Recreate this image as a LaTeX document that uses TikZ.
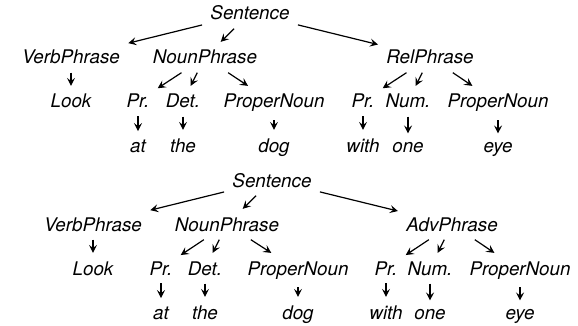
\documentclass[tikz,border=0pt]{standalone}
\usepackage{fontspec}
\setmainfont{TeX Gyre Heros}
\usetikzlibrary{arrows.meta}

\tikzset{
  word/.style={font=\fontsize{9.4}{11}\selectfont\itshape, inner sep=4pt, anchor=base},
  branch/.style={-{Stealth[length=4pt, width=4pt, inset=1.6pt]}, line width=0.6pt}
}

\begin{document}
\begin{tikzpicture}[x=0.5pt, y=-0.5pt, every node/.style={word}]
  \useasboundingbox (0,0) rectangle (578,326);

  % Upper tree
  \node (s1) at (250,20) {Sentence};
  \node (vp1) at (71,64) {VerbPhrase};
  \node (np1) at (205,64) {NounPhrase};
  \node (rp1) at (430,64) {RelPhrase};
  \node (look1) at (71,108) {Look};
  \node (pr1) at (138,108) {Pr.};
  \node (det1) at (183,108) {Det.};
  \node (pn1) at (274,108) {ProperNoun};
  \node (pr2) at (363,108) {Pr.};
  \node (num1) at (408,108) {Num.};
  \node (pn2) at (498,108) {ProperNoun};
  \node (at1) at (138,152) {at};
  \node (the1) at (183,152) {the};
  \node (dog1) at (274,152) {dog};
  \node (with1) at (363,152) {with};
  \node (one1) at (408,152) {one};
  \node (eye1) at (498,152) {eye};
  \draw[branch] (s1) -- (vp1);
  \draw[branch] (s1) -- (np1);
  \draw[branch] (s1) -- (rp1);
  \draw[branch] (vp1) -- (look1);
  \draw[branch] (np1) -- (pr1);
  \draw[branch] (np1) -- (det1);
  \draw[branch] (np1) -- (pn1);
  \draw[branch] (rp1) -- (pr2);
  \draw[branch] (rp1) -- (num1);
  \draw[branch] (rp1) -- (pn2);
  \draw[branch] (pr1) -- (at1);
  \draw[branch] (det1) -- (the1);
  \draw[branch] (pn1) -- (dog1);
  \draw[branch] (pr2) -- (with1);
  \draw[branch] (num1) -- (one1);
  \draw[branch] (pn2) -- (eye1);

  % Lower tree
  \node (s2) at (272,187) {Sentence};
  \node (vp2) at (93,231) {VerbPhrase};
  \node (np2) at (227,231) {NounPhrase};
  \node (ap2) at (452,231) {AdvPhrase};
  \node (look2) at (93,275) {Look};
  \node (pr3) at (161,275) {Pr.};
  \node (det2) at (205,275) {Det.};
  \node (pn3) at (298,275) {ProperNoun};
  \node (pr4) at (386,275) {Pr.};
  \node (num2) at (430,275) {Num.};
  \node (pn4) at (520,275) {ProperNoun};
  \node (at2) at (161,319) {at};
  \node (the2) at (205,319) {the};
  \node (dog2) at (298,319) {dog};
  \node (with2) at (386,319) {with};
  \node (one2) at (430,319) {one};
  \node (eye2) at (520,319) {eye};
  \draw[branch] (s2) -- (vp2);
  \draw[branch] (s2) -- (np2);
  \draw[branch] (s2) -- (ap2);
  \draw[branch] (vp2) -- (look2);
  \draw[branch] (np2) -- (pr3);
  \draw[branch] (np2) -- (det2);
  \draw[branch] (np2) -- (pn3);
  \draw[branch] (ap2) -- (pr4);
  \draw[branch] (ap2) -- (num2);
  \draw[branch] (ap2) -- (pn4);
  \draw[branch] (pr3) -- (at2);
  \draw[branch] (det2) -- (the2);
  \draw[branch] (pn3) -- (dog2);
  \draw[branch] (pr4) -- (with2);
  \draw[branch] (num2) -- (one2);
  \draw[branch] (pn4) -- (eye2);

\end{tikzpicture}
\end{document}
